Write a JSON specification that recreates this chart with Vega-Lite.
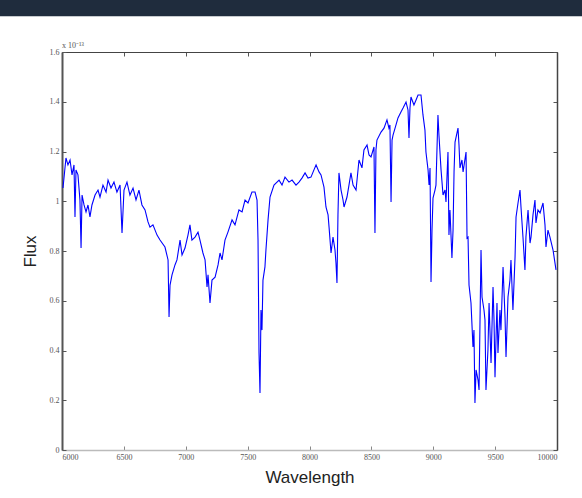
{
  "$schema": "https://vega.github.io/schema/vega-lite/v6.json",
  "autosize": "none",
  "width": 495,
  "height": 398,
  "padding": {"left": 62, "top": 52, "right": 25, "bottom": 48},
  "background": "white",
  "config": {"view": {"stroke": null}},
  "datasets": {
    "spectrum": [
      {"wl":6008,"flux":1.053},{"wl":6032,"flux":1.174},{"wl":6048,"flux":1.146},{"wl":6065,"flux":1.166},{"wl":6081,"flux":1.106},{"wl":6097,"flux":1.146},{"wl":6105,"flux":0.937},{"wl":6113,"flux":1.126},{"wl":6129,"flux":1.106},{"wl":6145,"flux":1.005},{"wl":6154,"flux":0.812},{"wl":6162,"flux":1.025},{"wl":6178,"flux":0.985},{"wl":6194,"flux":0.957},{"wl":6210,"flux":0.985},{"wl":6226,"flux":0.937},{"wl":6242,"flux":0.985},{"wl":6267,"flux":1.025},{"wl":6291,"flux":1.045},{"wl":6307,"flux":1.017},{"wl":6331,"flux":1.065},{"wl":6356,"flux":1.037},{"wl":6372,"flux":1.085},{"wl":6396,"flux":1.053},{"wl":6420,"flux":1.077},{"wl":6444,"flux":1.037},{"wl":6469,"flux":1.065},{"wl":6485,"flux":0.872},{"wl":6501,"flux":1.045},{"wl":6525,"flux":1.077},{"wl":6549,"flux":1.025},{"wl":6574,"flux":1.053},{"wl":6598,"flux":1.005},{"wl":6622,"flux":1.045},{"wl":6646,"flux":0.985},
      {"wl":6671,"flux":0.965},{"wl":6695,"flux":0.917},{"wl":6711,"flux":0.896},{"wl":6735,"flux":0.905},{"wl":6768,"flux":0.864},{"wl":6792,"flux":0.844},{"wl":6832,"flux":0.816},{"wl":6857,"flux":0.764},{"wl":6865,"flux":0.535},{"wl":6873,"flux":0.663},{"wl":6889,"flux":0.704},{"wl":6913,"flux":0.744},{"wl":6929,"flux":0.764},{"wl":6954,"flux":0.844},{"wl":6970,"flux":0.784},{"wl":6994,"flux":0.812},{"wl":7018,"flux":0.864},{"wl":7034,"flux":0.905},{"wl":7050,"flux":0.844},{"wl":7075,"flux":0.856},{"wl":7099,"flux":0.876},{"wl":7115,"flux":0.844},{"wl":7139,"flux":0.792},{"wl":7156,"flux":0.764},{"wl":7172,"flux":0.655},{"wl":7180,"flux":0.704},{"wl":7196,"flux":0.591},{"wl":7212,"flux":0.683},{"wl":7237,"flux":0.695},{"wl":7261,"flux":0.744},{"wl":7277,"flux":0.792},{"wl":7293,"flux":0.764},{"wl":7317,"flux":0.844},
      {"wl":7341,"flux":0.876},{"wl":7374,"flux":0.925},{"wl":7398,"flux":0.905},{"wl":7430,"flux":0.965},{"wl":7455,"flux":0.957},{"wl":7479,"flux":1.005},{"wl":7503,"flux":0.993},{"wl":7535,"flux":1.037},{"wl":7560,"flux":1.037},{"wl":7576,"flux":1.005},{"wl":7584,"flux":0.844},{"wl":7592,"flux":0.390},{"wl":7600,"flux":0.229},{"wl":7608,"flux":0.563},{"wl":7616,"flux":0.482},{"wl":7624,"flux":0.683},{"wl":7640,"flux":0.736},{"wl":7648,"flux":0.804},{"wl":7665,"flux":0.925},{"wl":7681,"flux":1.017},{"wl":7713,"flux":1.065},{"wl":7754,"flux":1.085},{"wl":7778,"flux":1.065},{"wl":7802,"flux":1.097},{"wl":7834,"flux":1.077},{"wl":7859,"flux":1.085},{"wl":7891,"flux":1.065},{"wl":7915,"flux":1.077},{"wl":7939,"flux":1.093},{"wl":7964,"flux":1.114},
      {"wl":7988,"flux":1.093},{"wl":8012,"flux":1.097},{"wl":8036,"flux":1.126},{"wl":8053,"flux":1.146},{"wl":8077,"flux":1.118},{"wl":8093,"flux":1.106},{"wl":8117,"flux":1.057},{"wl":8133,"flux":0.977},{"wl":8150,"flux":0.945},{"wl":8158,"flux":0.896},{"wl":8174,"flux":0.792},{"wl":8190,"flux":0.856},{"wl":8206,"flux":0.804},{"wl":8214,"flux":0.752},{"wl":8222,"flux":0.671},{"wl":8230,"flux":0.945},{"wl":8238,"flux":1.114},{"wl":8255,"flux":1.045},{"wl":8271,"flux":1.005},{"wl":8279,"flux":0.977},{"wl":8303,"flux":1.017},{"wl":8319,"flux":1.065},{"wl":8335,"flux":1.114},{"wl":8352,"flux":1.065},{"wl":8376,"flux":1.045},{"wl":8400,"flux":1.166},{"wl":8424,"flux":1.134},{"wl":8440,"flux":1.206},{"wl":8465,"flux":1.226},{"wl":8481,"flux":1.186},{"wl":8497,"flux":1.178},{"wl":8521,"flux":1.218},{"wl":8529,"flux":0.872},{"wl":8537,"flux":1.206},{"wl":8545,"flux":1.246},{"wl":8578,"flux":1.278},{"wl":8602,"flux":1.294},{"wl":8626,"flux":1.327},
      {"wl":8642,"flux":1.294},{"wl":8650,"flux":1.307},{"wl":8659,"flux":0.997},{"wl":8667,"flux":1.246},{"wl":8675,"flux":1.266},{"wl":8699,"flux":1.307},{"wl":8715,"flux":1.335},{"wl":8739,"flux":1.359},{"wl":8756,"flux":1.375},{"wl":8780,"flux":1.399},{"wl":8796,"flux":1.367},{"wl":8804,"flux":1.254},{"wl":8812,"flux":1.375},{"wl":8820,"flux":1.419},{"wl":8844,"flux":1.387},{"wl":8861,"flux":1.407},{"wl":8877,"flux":1.427},{"wl":8901,"flux":1.427},{"wl":8917,"flux":1.347},{"wl":8933,"flux":1.286},{"wl":8941,"flux":1.198},{"wl":8958,"flux":1.126},{"wl":8966,"flux":1.065},{"wl":8974,"flux":1.134},{"wl":8982,"flux":0.675},{"wl":8990,"flux":0.884},{"wl":8998,"flux":1.013},{"wl":9014,"flux":1.045},{"wl":9022,"flux":1.065},{"wl":9030,"flux":1.206},{"wl":9038,"flux":1.347},{"wl":9046,"flux":1.266},{"wl":9063,"flux":1.126},{"wl":9079,"flux":1.025},{"wl":9095,"flux":1.045},{"wl":9103,"flux":0.997},{"wl":9119,"flux":1.198},{"wl":9127,"flux":0.864},{"wl":9135,"flux":0.965},{"wl":9151,"flux":0.772},{"wl":9160,"flux":0.884},{"wl":9168,"flux":1.118},{"wl":9176,"flux":1.238},{"wl":9200,"flux":1.294},{"wl":9208,"flux":1.226},{"wl":9216,"flux":1.134},{"wl":9232,"flux":1.166},{"wl":9241,"flux":1.118},{"wl":9265,"flux":1.198},{"wl":9273,"flux":0.852},{"wl":9281,"flux":0.856},{"wl":9289,"flux":0.663},
      {"wl":9305,"flux":0.591},{"wl":9321,"flux":0.414},{"wl":9329,"flux":0.482},{"wl":9337,"flux":0.189},{"wl":9346,"flux":0.322},{"wl":9362,"flux":0.281},{"wl":9370,"flux":0.241},{"wl":9386,"flux":0.804},{"wl":9394,"flux":0.615},{"wl":9410,"flux":0.563},{"wl":9418,"flux":0.523},{"wl":9426,"flux":0.241},{"wl":9442,"flux":0.402},{"wl":9451,"flux":0.591},{"wl":9467,"flux":0.350},{"wl":9483,"flux":0.655},{"wl":9491,"flux":0.523},{"wl":9499,"flux":0.293},{"wl":9515,"flux":0.591},{"wl":9523,"flux":0.390},{"wl":9539,"flux":0.563},{"wl":9547,"flux":0.482},{"wl":9564,"flux":0.736},{"wl":9580,"flux":0.535},{"wl":9588,"flux":0.374},{"wl":9604,"flux":0.615},{"wl":9620,"flux":0.683},{"wl":9628,"flux":0.764},{"wl":9644,"flux":0.563},{"wl":9661,"flux":0.776},{"wl":9669,"flux":0.937},{"wl":9685,"flux":0.993},{"wl":9701,"flux":1.045},{"wl":9709,"flux":0.977},{"wl":9725,"flux":0.856},{"wl":9741,"flux":0.724},{"wl":9749,"flux":0.856},{"wl":9766,"flux":0.965},{"wl":9782,"flux":0.832},{"wl":9790,"flux":0.856},{"wl":9806,"flux":0.945},{"wl":9822,"flux":1.005},{"wl":9830,"flux":0.913},{"wl":9846,"flux":0.965},{"wl":9863,"flux":0.953},{"wl":9887,"flux":0.993},{"wl":9903,"flux":0.905},{"wl":9911,"flux":0.816},{"wl":9927,"flux":0.884},{"wl":9943,"flux":0.856},{"wl":9968,"flux":0.804},{"wl":9992,"flux":0.724}
    ]
  },
  "layer": [
    {
      "data": {"values": [{"band": "header"}]},
      "mark": {"type": "rect", "color": "#1f2c3d"},
      "encoding": {
        "x": {"datum": 5480, "type": "quantitative", "scale": {"domain": [6000, 10000], "nice": false, "zero": false}, "axis": {"orient": "top", "title": null, "labels": false, "values": [6000,6500,7000,7500,8000,8500,9000,9500,10000], "tickSize": -4, "tickColor": "#555", "domainColor": "#444", "domainWidth": 1, "grid": false}},
        "x2": {"datum": 10220},
        "y": {"datum": 1.744, "type": "quantitative", "scale": {"domain": [0, 1.6], "nice": false, "zero": false}, "axis": {"orient": "right", "title": null, "labels": false, "values": [0,0.2,0.4,0.6,0.8,1,1.2,1.4,1.6], "tickSize": -4, "tickColor": "#555", "domainColor": "#444", "domainWidth": 1.5, "grid": false}},
        "y2": {"datum": 1.83}
      }
    },
    {
      "data": {"name": "spectrum"},
      "mark": {"type": "line", "color": "#0000ff", "strokeWidth": 1.1, "interpolate": "linear"},
      "encoding": {
        "x": {"field": "wl", "type": "quantitative", "axis": {"orient": "bottom", "title": "Wavelength", "values": [6000,6500,7000,7500,8000,8500,9000,9500,10000], "format": "d", "tickSize": -4, "tickColor": "#888", "labelPadding": 7, "labelFont": "Liberation Serif", "labelFontSize": 8, "labelColor": "#555", "domainColor": "#bbb", "domainWidth": 1.5, "titleFont": "Liberation Sans", "titleFontSize": 17, "titleFontWeight": "normal", "titleColor": "#222", "titlePadding": 8, "grid": false}},
        "y": {"field": "flux", "type": "quantitative", "axis": {"orient": "left", "title": "Flux", "values": [0,0.2,0.4,0.6,0.8,1,1.2,1.4,1.6], "labelExpr": "format(datum.value, '~g')", "tickSize": -4, "tickColor": "#555", "labelPadding": 7, "labelFont": "Liberation Serif", "labelFontSize": 8, "labelColor": "#555", "domainColor": "#555", "domainWidth": 2, "titleFont": "Liberation Sans", "titleFontSize": 17, "titleFontWeight": "normal", "titleColor": "#222", "titlePadding": 10, "grid": false}}
      }
    },
    {
      "data": {"values": [{"label": "x 10⁻¹³"}]},
      "mark": {"type": "text", "align": "left", "baseline": "bottom", "dy": -2, "font": "Liberation Serif", "fontSize": 8, "color": "#555"},
      "encoding": {
        "x": {"datum": 6000, "type": "quantitative", "axis": null},
        "y": {"datum": 1.6, "type": "quantitative", "axis": null},
        "text": {"field": "label"}
      }
    }
  ],
  "resolve": {"axis": {"x": "independent", "y": "independent"}}
}
